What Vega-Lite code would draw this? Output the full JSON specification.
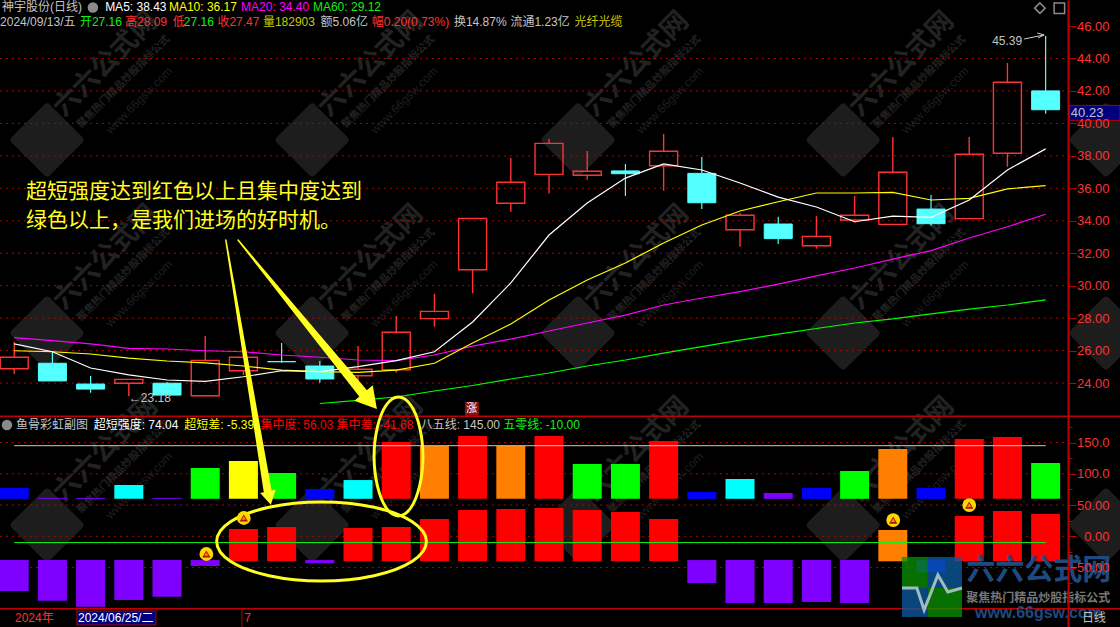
{"$schema":"https://vega.github.io/schema/vega-lite/v6.json","autosize":"none","padding":0,"width":1120,"height":627,"background":"#000000","config":{"view":{"stroke":null},"text":{"font":"Liberation Sans, Noto Sans CJK SC"}},
"datasets":{
"candles":[
{"i":0,"hi":26.55,"top":25.59,"bot":24.88,"lo":24.56,"dir":"up"},{"i":1,"hi":25.93,"top":25.22,"bot":24.13,"lo":24.11,"dir":"down"},{"i":2,"hi":24.43,"top":23.94,"bot":23.63,"lo":23.41,"dir":"down"},{"i":3,"hi":24.23,"top":24.23,"bot":23.99,"lo":23.18,"dir":"up"},{"i":4,"hi":24.07,"top":23.99,"bot":23.26,"lo":23.26,"dir":"down"},{"i":5,"hi":26.9,"top":25.4,"bot":23.22,"lo":23.22,"dir":"up"},{"i":6,"hi":26.04,"top":25.59,"bot":24.76,"lo":24.5,"dir":"up"},{"i":7,"hi":26.47,"top":25.33,"bot":25.31,"lo":25.25,"dir":"down"},{"i":8,"hi":25.36,"top":25.05,"bot":24.25,"lo":24.02,"dir":"down"},{"i":9,"hi":26.28,"top":24.85,"bot":24.45,"lo":24.13,"dir":"up"},{"i":10,"hi":28.13,"top":27.13,"bot":24.82,"lo":24.64,"dir":"up"},{"i":11,"hi":29.49,"top":28.42,"bot":27.97,"lo":27.47,"dir":"up"},{"i":12,"hi":34.15,"top":34.15,"bot":30.98,"lo":29.53,"dir":"up"},{"i":13,"hi":37.87,"top":36.37,"bot":35.08,"lo":34.56,"dir":"up"},{"i":14,"hi":39.04,"top":38.77,"bot":36.86,"lo":35.69,"dir":"up"},{"i":15,"hi":38.3,"top":37.05,"bot":36.8,"lo":36.53,"dir":"up"},{"i":16,"hi":37.5,"top":37.07,"bot":36.9,"lo":35.53,"dir":"down"},{"i":17,"hi":39.35,"top":38.28,"bot":37.39,"lo":35.85,"dir":"up"},{"i":18,"hi":37.93,"top":36.92,"bot":35.11,"lo":34.72,"dir":"down"},{"i":19,"hi":34.48,"top":34.34,"bot":33.45,"lo":32.4,"dir":"up"},{"i":20,"hi":34.25,"top":33.8,"bot":32.9,"lo":32.57,"dir":"down"},{"i":21,"hi":34.29,"top":33.04,"bot":32.46,"lo":32.28,"dir":"up"},{"i":22,"hi":35.53,"top":34.34,"bot":34.05,"lo":33.88,"dir":"up"},{"i":23,"hi":39.16,"top":36.99,"bot":33.78,"lo":33.78,"dir":"up"},{"i":24,"hi":35.59,"top":34.72,"bot":33.82,"lo":33.7,"dir":"down"},{"i":25,"hi":39.16,"top":38.1,"bot":34.13,"lo":34.13,"dir":"up"},{"i":26,"hi":43.72,"top":42.53,"bot":38.16,"lo":37.33,"dir":"up"},{"i":27,"hi":45.39,"top":42,"bot":40.84,"lo":40.6,"dir":"down"}],
"ma":[
{"i":0,"ma5":26.41,"ma10":25.99,"ma20":26.8},{"i":1,"ma5":25.93,"ma10":25.93,"ma20":26.61},{"i":2,"ma5":24.93,"ma10":25.79,"ma20":26.41},{"i":3,"ma5":24.5,"ma10":25.54,"ma20":26.14},{"i":4,"ma5":24.19,"ma10":25.36,"ma20":26.1},{"i":5,"ma5":24.11,"ma10":25.24,"ma20":25.99},{"i":6,"ma5":24.39,"ma10":25.05,"ma20":25.93},{"i":7,"ma5":24.76,"ma10":24.8,"ma20":25.73},{"i":8,"ma5":24.7,"ma10":24.7,"ma20":25.59,"ma60":22.74},{"i":9,"ma5":25.01,"ma10":24.66,"ma20":25.42,"ma60":22.93},{"i":10,"ma5":25.38,"ma10":24.8,"ma20":25.38,"ma60":23.14},{"i":11,"ma5":25.93,"ma10":25.22,"ma20":25.73,"ma60":23.51},{"i":12,"ma5":27.76,"ma10":26.47,"ma20":26.28,"ma60":23.85},{"i":13,"ma5":30.17,"ma10":27.64,"ma20":26.71,"ma60":24.25},{"i":14,"ma5":33.12,"ma10":29.12,"ma20":27.21,"ma60":24.62},{"i":15,"ma5":35.09,"ma10":30.35,"ma20":27.7,"ma60":25.05},{"i":16,"ma5":36.63,"ma10":31.4,"ma20":28.19,"ma60":25.42},{"i":17,"ma5":37.5,"ma10":32.63,"ma20":28.81,"ma60":25.85},{"i":18,"ma5":37.13,"ma10":33.74,"ma20":29.24,"ma60":26.25},{"i":19,"ma5":36.33,"ma10":34.6,"ma20":29.63,"ma60":26.65},{"i":20,"ma5":35.46,"ma10":35.17,"ma20":30.1,"ma60":27.02},{"i":21,"ma5":34.85,"ma10":35.71,"ma20":30.6,"ma60":27.36},{"i":22,"ma5":33.94,"ma10":35.71,"ma20":31.09,"ma60":27.7},{"i":23,"ma5":34.29,"ma10":35.75,"ma20":31.64,"ma60":27.95},{"i":24,"ma5":34.21,"ma10":35.28,"ma20":32.16,"ma60":28.26},{"i":25,"ma5":35.28,"ma10":35.38,"ma20":32.94,"ma60":28.56},{"i":26,"ma5":37.13,"ma10":35.96,"ma20":33.63,"ma60":28.81},{"i":27,"ma5":38.43,"ma10":36.17,"ma20":34.4,"ma60":29.12}],
"bars":[
{"i":0,"lo":60,"hi":77.3,"tone":"blue"},{"i":1,"lo":60,"hi":61.5,"tone":"purple"},{"i":2,"lo":60,"hi":61.5,"tone":"purple"},{"i":3,"lo":60,"hi":82.1,"tone":"cyan"},{"i":4,"lo":60,"hi":61.5,"tone":"purple"},{"i":5,"lo":60,"hi":109.3,"tone":"green"},{"i":6,"lo":60,"hi":120.5,"tone":"yellow"},{"i":7,"lo":60,"hi":101.3,"tone":"green"},{"i":8,"lo":60,"hi":75.7,"tone":"blue"},{"i":9,"lo":60,"hi":90,"tone":"cyan"},{"i":10,"lo":60,"hi":150.9,"tone":"red"},{"i":11,"lo":60,"hi":144.5,"tone":"orange"},{"i":12,"lo":60,"hi":160.5,"tone":"red"},{"i":13,"lo":60,"hi":144.5,"tone":"orange"},{"i":14,"lo":60,"hi":160.5,"tone":"red"},{"i":15,"lo":60,"hi":115.7,"tone":"green"},{"i":16,"lo":60,"hi":115.7,"tone":"green"},{"i":17,"lo":60,"hi":152.5,"tone":"red"},{"i":18,"lo":60,"hi":70.9,"tone":"blue"},{"i":19,"lo":60,"hi":91.7,"tone":"cyan"},{"i":20,"lo":60,"hi":69.3,"tone":"purple"},{"i":21,"lo":60,"hi":77.3,"tone":"blue"},{"i":22,"lo":60,"hi":104.5,"tone":"green"},{"i":23,"lo":60,"hi":139.7,"tone":"orange"},{"i":24,"lo":60,"hi":77.3,"tone":"blue"},{"i":25,"lo":60,"hi":155.7,"tone":"red"},{"i":26,"lo":60,"hi":158.9,"tone":"red"},{"i":27,"lo":60,"hi":117.3,"tone":"green"},
{"i":0,"lo":-87.5,"hi":-38,"tone":"purple"},{"i":1,"lo":-103,"hi":-38,"tone":"purple"},{"i":2,"lo":-112.6,"hi":-38,"tone":"purple"},{"i":3,"lo":-102,"hi":-38,"tone":"purple"},{"i":4,"lo":-96.6,"hi":-38,"tone":"purple"},{"i":5,"lo":-47.5,"hi":-38,"tone":"purple"},{"i":6,"lo":-40,"hi":11.7,"tone":"red"},{"i":7,"lo":-40,"hi":14.9,"tone":"red"},{"i":8,"lo":-43,"hi":-38,"tone":"purple"},{"i":9,"lo":-40,"hi":13.3,"tone":"red"},{"i":10,"lo":-40,"hi":14.9,"tone":"red"},{"i":11,"lo":-40,"hi":27.7,"tone":"red"},{"i":12,"lo":-40,"hi":42.1,"tone":"red"},{"i":13,"lo":-40,"hi":43.7,"tone":"red"},{"i":14,"lo":-40,"hi":45.3,"tone":"red"},{"i":15,"lo":-40,"hi":42.1,"tone":"red"},{"i":16,"lo":-40,"hi":38.9,"tone":"red"},{"i":17,"lo":-40,"hi":27.7,"tone":"red"},{"i":18,"lo":-74.7,"hi":-38,"tone":"purple"},{"i":19,"lo":-106.7,"hi":-38,"tone":"purple"},{"i":20,"lo":-106.7,"hi":-38,"tone":"purple"},{"i":21,"lo":-105,"hi":-38,"tone":"purple"},{"i":22,"lo":-106.7,"hi":-38,"tone":"purple"},{"i":23,"lo":-40,"hi":10.1,"tone":"orange"},{"i":24,"lo":-58,"hi":-38,"tone":"blue"},{"i":25,"lo":-40,"hi":32.5,"tone":"red"},{"i":26,"lo":-40,"hi":40.5,"tone":"red"},{"i":27,"lo":-40,"hi":35.7,"tone":"red"}],
"marks":[{"x":0,"xe":27,"v":145,"name":"八五线"},{"x":0,"xe":27,"v":-10,"name":"五零线"}],
"water":[{"x":0.86,"p":38.98},{"x":7.8,"p":38.98},{"x":14.76,"p":38.98},{"x":21.7,"p":38.98},{"x":28.58,"p":38.98},{"x":0.86,"p":27.08},{"x":7.8,"p":27.08},{"x":14.76,"p":27.08},{"x":21.7,"p":27.08},{"x":28.58,"p":27.08},{"x":0.86,"p":15.25},{"x":7.8,"p":15.25},{"x":14.76,"p":15.25},{"x":21.7,"p":15.25},{"x":28.58,"p":15.25}],
"topText":[
{"x":-0.32,"p":47.14,"t":"神宇股份(日线)","tone":"gray"},{"x":2.38,"p":47.14,"t":"MA5: 38.43","tone":"white"},{"x":4.05,"p":47.14,"t":"MA10: 36.17","tone":"yellow"},{"x":5.94,"p":47.14,"t":"MA20: 34.40","tone":"magenta"},{"x":7.82,"p":47.14,"t":"MA60: 29.12","tone":"green"},
{"x":-0.37,"p":46.25,"t":"2024/09/13/五","tone":"gray"},{"x":1.72,"p":46.25,"t":"开27.16","tone":"green"},{"x":2.9,"p":46.25,"t":"高28.09","tone":"red"},{"x":4.15,"p":46.25,"t":"低","tone":"red"},{"x":4.44,"p":46.25,"t":"27.16","tone":"green"},{"x":5.32,"p":46.25,"t":"收27.47","tone":"red"},{"x":6.51,"p":46.25,"t":"量182903","tone":"olive"},{"x":8.02,"p":46.25,"t":"额5.06亿","tone":"gray"},{"x":9.36,"p":46.25,"t":"幅0.20(0.73%)","tone":"red"},{"x":11.51,"p":46.25,"t":"换14.87%","tone":"gray"},{"x":12.99,"p":46.25,"t":"流通1.23亿","tone":"gray"},{"x":14.67,"p":46.25,"t":"光纤光缆","tone":"olive"},
{"x":3.0,"p":23.11,"t":"←23.18","tone":"gray"},{"x":25.6,"p":45.08,"t":"45.39","tone":"gray"},{"x":27.66,"p":40.73,"t":"40.23","tone":"gray"}],
"leaders":[{"x":26.44,"p":45.2,"xe":26.96,"pe":45.45},{"x":26.78,"p":45.57,"xe":26.96,"pe":45.45},{"x":26.8,"p":45.26,"xe":26.96,"pe":45.45}],
"lowText":[
{"x":0.05,"v":178.1,"t":"鱼骨彩虹副图","tone":"gray"},{"x":2.08,"v":178.1,"t":"超短强度: 74.04","tone":"white"},{"x":4.45,"v":178.1,"t":"超短差: -5.39","tone":"yellow"},{"x":6.45,"v":178.1,"t":"集中度: 56.03","tone":"pure"},{"x":8.44,"v":178.1,"t":"集中差: -41.68","tone":"pure"},{"x":10.64,"v":178.1,"t":"八五线: 145.00","tone":"gray"},{"x":12.8,"v":178.1,"t":"五零线: -10.00","tone":"green"},
{"x":0.02,"v":-130.7,"t":"2024年","tone":"red"},{"x":1.67,"v":-130.7,"t":"2024/06/25/二","tone":"white"},{"x":6.02,"v":-130.7,"t":"7","tone":"red"},{"x":27.95,"v":-130.7,"t":"日线","tone":"gray"}],
"coins":[{"i":5.03,"v":-28.3},{"i":6.01,"v":29.3},{"i":23.01,"v":26},{"i":25,"v":50}],
"logoRects":[{"x":23.24,"xe":23.92,"v":-33,"ve":-82.7,"tone":"g"},{"x":23.92,"xe":24.81,"v":-33,"ve":-82.7,"tone":"b"},{"x":23.24,"xe":23.92,"v":-82.7,"ve":-129,"tone":"b"},{"x":23.92,"xe":24.81,"v":-82.7,"ve":-129,"tone":"g"}],
"pulse":[{"k":0,"x":23.24,"v":-82.7},{"k":1,"x":23.63,"v":-82.7},{"k":2,"x":23.82,"v":-117.9},{"k":3,"x":24.18,"v":-61.9},{"k":4,"x":24.44,"v":-89.1},{"k":5,"x":24.81,"v":-82.7}],
"rings":[
{"e":"a","k":0,"x":10.79,"v":-8.3},{"e":"a","k":1,"x":10.42,"v":23.3},{"e":"a","k":2,"x":9.42,"v":46.4},{"e":"a","k":3,"x":8.04,"v":54.9},{"e":"a","k":4,"x":6.67,"v":46.4},{"e":"a","k":5,"x":5.66,"v":23.3},{"e":"a","k":6,"x":5.3,"v":-8.3},{"e":"a","k":7,"x":5.66,"v":-39.9},{"e":"a","k":8,"x":6.67,"v":-63},{"e":"a","k":9,"x":8.04,"v":-71.5},{"e":"a","k":10,"x":9.42,"v":-63},{"e":"a","k":11,"x":10.42,"v":-39.9},
{"e":"b","k":0,"x":10.7,"v":127.7},{"e":"b","k":1,"x":10.61,"v":175.3},{"e":"b","k":2,"x":10.38,"v":210.1},{"e":"b","k":3,"x":10.06,"v":222.9},{"e":"b","k":4,"x":9.74,"v":210.1},{"e":"b","k":5,"x":9.51,"v":175.3},{"e":"b","k":6,"x":9.42,"v":127.7},{"e":"b","k":7,"x":9.51,"v":80.1},{"e":"b","k":8,"x":9.74,"v":45.3},{"e":"b","k":9,"x":10.06,"v":32.5},{"e":"b","k":10,"x":10.38,"v":45.3},{"e":"b","k":11,"x":10.61,"v":80.1}],
"arrows":[
{"a":"l","k":0,"x":5.54,"v":474,"w":1.5},{"a":"l","k":1,"x":6.63,"v":74,"w":8},
{"a":"r","k":0,"x":5.86,"v":474,"w":1.5},{"a":"r","k":1,"x":9.21,"v":222.9,"w":10}]
},
"layer":[
{"layer":[
{"data":{"name":"water"},"mark":{"type":"point","filled":true,"shape":"square","angle":45,"size":2100,"color":"#1d1d1d","stroke":"#1d1d1d","strokeWidth":8,"strokeJoin":"round","opacity":1},"encoding":{"x":{"field":"x","type":"quantitative","scale":{"domain":[-0.372,28.947],"nice":false,"zero":false,"padding":0},"axis":null},"y":{"field":"p","type":"quantitative","scale":{"domain":[8.97,47.602],"nice":false,"zero":false},"axis":{"title":null,"orient":"right","offset":-52,"zindex":1,"values":[24,25,26,27,28,29,30,31,32,33,34,35,36,37,38,39,40,41,42,43,44,45,46,47],"labelExpr":"datum.value % 2 == 0 ? format(datum.value,'.2f') : ''","labelColor":"#ff3232","labelFont":"Liberation Sans","labelFontSize":13,"labelPadding":33,"labelAlign":"right","grid":false,"domain":true,"domainColor":"#c00000","domainWidth":2,"tickColor":"#c00000","tickSize":{"condition":{"test":"datum.value % 2 == 0","value":8},"value":4},"labelOverlap":false}}}},
{"data":{"name":"water"},"transform":[{"filter":"datum.x<28"}],"mark":{"type":"text","angle":315,"dx":95,"dy":-12,"fontSize":27,"fontWeight":"bold","font":"Noto Sans CJK SC","color":"#222222"},"encoding":{"x":{"field":"x","type":"quantitative"},"y":{"field":"p","type":"quantitative"},"text":{"value":"六六公式网"}}},
{"data":{"name":"water"},"transform":[{"filter":"datum.x<28"}],"mark":{"type":"text","angle":315,"dx":95,"dy":13,"fontSize":10.5,"fontWeight":"bold","font":"Noto Sans CJK SC","color":"#222222"},"encoding":{"x":{"field":"x","type":"quantitative"},"y":{"field":"p","type":"quantitative"},"text":{"value":"聚焦热门精品炒股指标公式"}}},
{"data":{"name":"water"},"transform":[{"filter":"datum.x<28"}],"mark":{"type":"text","angle":315,"dx":93,"dy":37,"fontSize":12,"font":"Liberation Sans","color":"#1f1f1f"},"encoding":{"x":{"field":"x","type":"quantitative"},"y":{"field":"p","type":"quantitative"},"text":{"value":"www.66gsw.com"}}},
{"data":{"values":[{"p":24},{"p":26},{"p":28},{"p":30},{"p":32},{"p":34},{"p":36},{"p":38},{"p":40},{"p":42},{"p":44}]},"mark":{"type":"rule","color":"#b00000","strokeDash":[2,4],"strokeWidth":1},"encoding":{"x":{"datum":-0.372},"x2":{"datum":27.6},"y":{"field":"p","type":"quantitative"}}},
{"data":{"name":"candles"},"transform":[{"filter":"datum.dir=='up'"}],"mark":{"type":"rule","color":"#ff3232","strokeWidth":1.4},"encoding":{"x":{"field":"i","type":"quantitative"},"y":{"field":"hi","type":"quantitative"},"y2":{"field":"top"}}},
{"data":{"name":"candles"},"transform":[{"filter":"datum.dir=='up'"}],"mark":{"type":"rule","color":"#ff3232","strokeWidth":1.4},"encoding":{"x":{"field":"i","type":"quantitative"},"y":{"field":"bot","type":"quantitative"},"y2":{"field":"lo"}}},
{"data":{"name":"candles"},"transform":[{"filter":"datum.dir=='down'"}],"mark":{"type":"rule","color":"#54ffff","strokeWidth":1.2},"encoding":{"x":{"field":"i","type":"quantitative"},"y":{"field":"hi","type":"quantitative"},"y2":{"field":"lo"}}},
{"data":{"name":"candles"},"transform":[{"filter":"datum.dir=='up'"}],"mark":{"type":"bar","orient":"vertical","size":28,"fill":"transparent","stroke":"#ff3232","strokeWidth":1.4},"encoding":{"x":{"field":"i","type":"quantitative"},"y":{"field":"top","type":"quantitative"},"y2":{"field":"bot"}}},
{"data":{"name":"candles"},"transform":[{"filter":"datum.dir=='down'"}],"mark":{"type":"bar","orient":"vertical","size":28,"fill":"#54ffff","stroke":"#54ffff","strokeWidth":1},"encoding":{"x":{"field":"i","type":"quantitative"},"y":{"field":"top","type":"quantitative"},"y2":{"field":"bot"}}},
{"data":{"name":"ma"},"mark":{"type":"line","color":"#ff00ff","strokeWidth":1.2},"encoding":{"x":{"field":"i","type":"quantitative"},"y":{"field":"ma20","type":"quantitative"}}},
{"data":{"name":"ma"},"mark":{"type":"line","color":"#00ff00","strokeWidth":1.2},"encoding":{"x":{"field":"i","type":"quantitative"},"y":{"field":"ma60","type":"quantitative"}}},
{"data":{"name":"ma"},"mark":{"type":"line","color":"#ffff00","strokeWidth":1.2},"encoding":{"x":{"field":"i","type":"quantitative"},"y":{"field":"ma10","type":"quantitative"}}},
{"data":{"name":"ma"},"mark":{"type":"line","color":"#ffffff","strokeWidth":1.2},"encoding":{"x":{"field":"i","type":"quantitative"},"y":{"field":"ma5","type":"quantitative"}}},
{"data":{"name":"leaders"},"mark":{"type":"rule","color":"#d0d0d0","strokeWidth":1},"encoding":{"x":{"field":"x","type":"quantitative"},"x2":{"field":"xe"},"y":{"field":"p","type":"quantitative"},"y2":{"field":"pe"}}},
{"data":{"values":[{"x":2.06,"p":47.14}]},"mark":{"type":"point","filled":true,"shape":"circle","size":110,"color":"#8a8a8a","opacity":1},"encoding":{"x":{"field":"x","type":"quantitative"},"y":{"field":"p","type":"quantitative"}}},
{"data":{"values":[{"x":26.85,"p":47.1,"s":"diamond"},{"x":27.36,"p":47.1,"s":"square"}]},"mark":{"type":"point","filled":false,"size":110,"color":"#8a8a8a","strokeWidth":1.5,"opacity":1},"encoding":{"x":{"field":"x","type":"quantitative"},"y":{"field":"p","type":"quantitative"},"shape":{"field":"s","type":"nominal","scale":{"domain":["diamond","square"],"range":["diamond","square"]},"legend":null}}},
{"data":{"name":"topText"},"transform":[{"filter":"datum.t!='40.23'"}],"mark":{"type":"text","align":"left","baseline":"middle","fontSize":12},"encoding":{"x":{"field":"x","type":"quantitative"},"y":{"field":"p","type":"quantitative"},"text":{"field":"t"},"color":{"field":"tone","type":"nominal","legend":null,"scale":{"domain":["gray","white","yellow","magenta","green","red","olive","pure"],"range":["#c4c4c4","#ffffff","#ffff00","#ff00ff","#14f014","#ff3232","#c8c800","#ff0000"]}}}},
{"data":{"values":[{"l":"超短强度达到红色以上且集中度达到","x":0.31,"p":35.77},{"l":"绿色以上，是我们进场的好时机。","x":0.31,"p":33.99}]},"mark":{"type":"text","align":"left","baseline":"middle","fontSize":21,"font":"Noto Sans CJK SC","color":"#ffff20"},"encoding":{"x":{"field":"x","type":"quantitative"},"y":{"field":"p","type":"quantitative"},"text":{"field":"l"}}}
]},
{"layer":[
{"data":{"values":[{"v":150},{"v":100},{"v":50},{"v":0},{"v":-50}]},"mark":{"type":"rule","color":"#b00000","strokeDash":[2,4],"strokeWidth":1},"encoding":{"x":{"datum":-0.372},"x2":{"datum":27.6},"y":{"field":"v","type":"quantitative","scale":{"domain":[-145.1,858.1],"nice":false,"zero":false},"axis":{"title":null,"orient":"right","offset":-52,"zindex":1,"values":[175,150,125,100,75,50,25,0,-25,-50,-75,-100],"labelExpr":"datum.value==150||datum.value==100?format(datum.value,'.1f'):(datum.value==50||datum.value==0||datum.value==-50?format(datum.value,'.2f'):'')","labelColor":"#ff3232","labelFont":"Liberation Sans","labelFontSize":13,"labelPadding":33,"labelAlign":"right","grid":false,"domain":false,"tickColor":"#c00000","tickSize":{"condition":{"test":"datum.value % 50 == 0","value":8},"value":4},"labelOverlap":false}}}},
{"data":{"name":"bars"},"mark":{"type":"bar","orient":"vertical","size":29},"encoding":{"x":{"field":"i","type":"quantitative"},"y":{"field":"hi","type":"quantitative"},"y2":{"field":"lo"},"fill":{"field":"tone","type":"nominal","legend":null,"scale":{"domain":["blue","cyan","purple","green","yellow","orange","red","g","b"],"range":["#0000ff","#00ffff","#8000ff","#00ff00","#ffff00","#ff8000","#ff0000","#0a9000","#0a5a9f"]}}}},
{"data":{"name":"marks"},"transform":[{"filter":"datum.v==145"}],"mark":{"type":"rule","color":"#c8c8c8","strokeWidth":1},"encoding":{"x":{"field":"x","type":"quantitative"},"x2":{"field":"xe"},"y":{"field":"v","type":"quantitative"}}},
{"data":{"name":"marks"},"transform":[{"filter":"datum.v==-10"}],"mark":{"type":"rule","color":"#14f014","strokeWidth":1},"encoding":{"x":{"field":"x","type":"quantitative"},"x2":{"field":"xe"},"y":{"field":"v","type":"quantitative"}}},
{"data":{"values":[{"v":192},{"v":-116}]},"mark":{"type":"rule","color":"#c00000","strokeWidth":1.5},"encoding":{"x":{"datum":-0.372},"x2":{"datum":28.947},"y":{"field":"v","type":"quantitative"}}},
{"data":{"values":[{"x":27.62,"xe":28.947,"v":689.5,"ve":665.5,"t":"40.23"}]},"mark":{"type":"rect","fill":"#00007f","stroke":"#b00000","strokeWidth":1},"encoding":{"x":{"field":"x","type":"quantitative"},"x2":{"field":"xe"},"y":{"field":"v","type":"quantitative"},"y2":{"field":"ve"}}},
{"data":{"values":[{"x":27.66,"v":678,"t":"40.23"}]},"mark":{"type":"text","align":"left","baseline":"middle","fontSize":13,"color":"#c4c4c4"},"encoding":{"x":{"field":"x","type":"quantitative"},"y":{"field":"v","type":"quantitative"},"text":{"field":"t"}}},
{"data":{"values":[{"x":1.64,"xe":3.71,"v":-119.5,"ve":-141.9}]},"mark":{"type":"rect","fill":"#00007f","stroke":"#b00000","strokeWidth":1},"encoding":{"x":{"field":"x","type":"quantitative"},"x2":{"field":"xe"},"y":{"field":"v","type":"quantitative"},"y2":{"field":"ve"}}},
{"data":{"values":[{"x":5.96,"v":-116,"ve":-145}]},"mark":{"type":"rule","color":"#c00000","strokeWidth":1},"encoding":{"x":{"field":"x","type":"quantitative"},"y":{"field":"v","type":"quantitative"},"y2":{"field":"ve"}}},
{"data":{"name":"logoRects"},"mark":{"type":"rect","opacity":0.78},"encoding":{"x":{"field":"x","type":"quantitative"},"x2":{"field":"xe"},"y":{"field":"v","type":"quantitative"},"y2":{"field":"ve"},"fill":{"field":"tone","type":"nominal","legend":null}}},
{"data":{"name":"pulse"},"mark":{"type":"line","color":"#9fbcc0","strokeWidth":3},"encoding":{"x":{"field":"x","type":"quantitative"},"y":{"field":"v","type":"quantitative"},"order":{"field":"k"}}},
{"data":{"values":[{"x":24.92,"v":-55.5}]},"mark":{"type":"text","align":"left","baseline":"middle","fontSize":29,"fontWeight":"bold","font":"Noto Sans CJK SC","color":"#1f4a80"},"encoding":{"x":{"field":"x","type":"quantitative"},"y":{"field":"v","type":"quantitative"},"text":{"value":"六六公式网"}}},
{"data":{"values":[{"x":24.92,"v":-98.7}]},"mark":{"type":"text","align":"left","baseline":"middle","fontSize":12,"fontWeight":"bold","font":"Noto Sans CJK SC","color":"#777777"},"encoding":{"x":{"field":"x","type":"quantitative"},"y":{"field":"v","type":"quantitative"},"text":{"value":"聚焦热门精品炒股指标公式"}}},
{"data":{"values":[{"x":25.15,"v":-122.7}]},"mark":{"type":"text","align":"left","baseline":"middle","fontSize":16,"fontWeight":"bold","font":"Liberation Sans","color":"#1f4a80"},"encoding":{"x":{"field":"x","type":"quantitative"},"y":{"field":"v","type":"quantitative"},"text":{"value":"www.66gsw.com"}}},
{"data":{"name":"rings"},"mark":{"type":"line","interpolate":"cardinal-closed","color":"#ffff20","strokeWidth":3},"encoding":{"x":{"field":"x","type":"quantitative"},"y":{"field":"v","type":"quantitative"},"detail":{"field":"e"},"order":{"field":"k"}}},
{"data":{"name":"arrows"},"mark":{"type":"trail","color":"#ffff20"},"encoding":{"x":{"field":"x","type":"quantitative"},"y":{"field":"v","type":"quantitative"},"detail":{"field":"a"},"order":{"field":"k"},"size":{"field":"w","type":"quantitative","legend":null,"scale":{"domain":[0,30],"range":[0,30]}}}},
{"data":{"values":[{"x":6.68,"v":61.3}]},"mark":{"type":"point","filled":true,"shape":"triangle-down","angle":348,"size":256,"color":"#ffff20","opacity":1},"encoding":{"x":{"field":"x","type":"quantitative"},"y":{"field":"v","type":"quantitative"}}},
{"data":{"values":[{"x":9.32,"v":216.5}]},"mark":{"type":"point","filled":true,"shape":"triangle-down","angle":320,"size":576,"color":"#ffff20","opacity":1},"encoding":{"x":{"field":"x","type":"quantitative"},"y":{"field":"v","type":"quantitative"}}},
{"data":{"name":"coins"},"mark":{"type":"point","filled":true,"shape":"circle","size":190,"color":"#ffd800","opacity":1},"encoding":{"x":{"field":"i","type":"quantitative"},"y":{"field":"v","type":"quantitative"}}},
{"data":{"name":"coins"},"mark":{"type":"point","filled":true,"shape":"triangle-up","size":70,"color":"#b01010","opacity":1},"encoding":{"x":{"field":"i","type":"quantitative"},"y":{"field":"v","type":"quantitative"}}},
{"data":{"name":"coins"},"mark":{"type":"point","filled":true,"shape":"triangle-up","size":18,"color":"#ff8a00","opacity":1},"encoding":{"x":{"field":"i","type":"quantitative"},"y":{"field":"v","type":"quantitative"}}},
{"data":{"values":[{"x":-0.19,"v":178.1}]},"mark":{"type":"point","filled":true,"shape":"circle","size":110,"color":"#8a8a8a","opacity":1},"encoding":{"x":{"field":"x","type":"quantitative"},"y":{"field":"v","type":"quantitative"}}},
{"data":{"values":[{"x":11.98,"v":204}]},"mark":{"type":"point","filled":true,"shape":"square","size":190,"color":"#8b1010","opacity":1},"encoding":{"x":{"field":"x","type":"quantitative"},"y":{"field":"v","type":"quantitative"}}},
{"data":{"values":[{"x":11.98,"v":204,"t":"涨"}]},"mark":{"type":"text","align":"center","baseline":"middle","fontSize":11,"font":"Noto Sans CJK SC","color":"#ffffff"},"encoding":{"x":{"field":"x","type":"quantitative"},"y":{"field":"v","type":"quantitative"},"text":{"field":"t"}}},
{"data":{"name":"lowText"},"mark":{"type":"text","align":"left","baseline":"middle","fontSize":12},"encoding":{"x":{"field":"x","type":"quantitative"},"y":{"field":"v","type":"quantitative"},"text":{"field":"t"},"color":{"field":"tone","type":"nominal","legend":null}}}
]}
],
"resolve":{"scale":{"y":"independent"}}}
